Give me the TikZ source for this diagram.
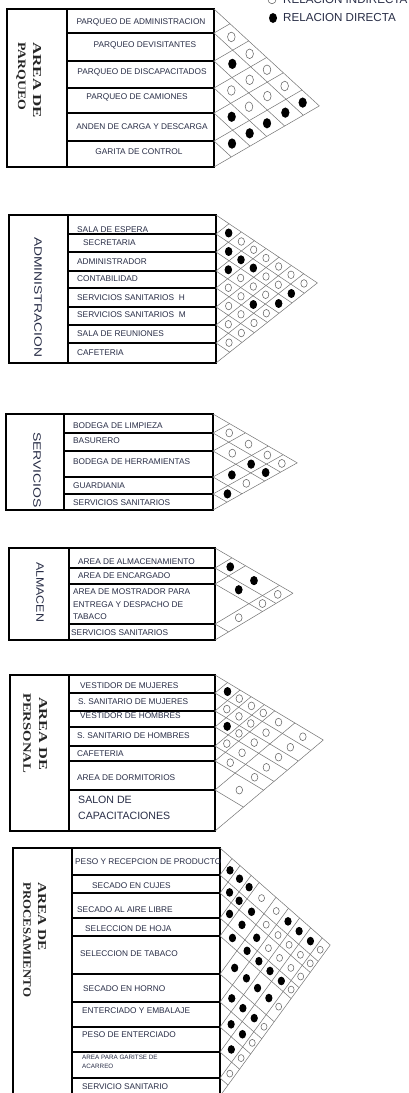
\documentclass[tikz,border=0pt]{standalone}
\usepackage{fontspec}
\setmainfont{Liberation Sans}
\newfontfamily\serifbf{Liberation Serif}
\usepackage{graphicx}
\definecolor{txtc}{RGB}{40,45,70}
\tikzset{
  box/.style={draw=black, line width=1.1pt},
  gridln/.style={draw=black!55, line width=0.5pt},
  opendot/.style={draw=black!60, line width=0.55pt, fill=white},
  fulldot/.style={fill=black},
  rowtxt/.style={inner sep=0pt, anchor=west, text=txtc, font=\fontsize{8.3}{9}\selectfont},
  rowtxtc/.style={inner sep=0pt, anchor=center, text=txtc, font=\fontsize{8.3}{9}\selectfont},
  vlab/.style={inner sep=0pt, rotate=-90, text=txtc},
  vlabb/.style={inner sep=0pt, rotate=-90, anchor=west, text=black!85},
  legtxt/.style={inner sep=0pt, anchor=west, text=txtc, font=\fontsize{11.6}{13}\selectfont},
}
% mid-line of row #2 in boundary list #1 -> \mres
\newcommand\rowmid[2]{%
  \pgfmathtruncatemacro\idxp{#2-1}%
  \pgfmathtruncatemacro\idxq{#2}%
  \pgfmathsetmacro\yp{{#1}[\idxp]}%
  \pgfmathsetmacro\yq{{#1}[\idxq]}%
  \pgfmathsetmacro\mres{(\yp+\yq)/2}%
}
% #1 R, #2 s1, #3 s2, #4 boundaries, #5 number of rows, #6 filled pairs
\newcommand\relgrid[6]{%
  \pgfmathsetmacro\rsum{#2+#3}%
  \pgfmathsetmacro\ytop{{#4}[0]}%
  \pgfmathsetmacro\ybot{{#4}[#5]}%
  \foreach \k in {0,...,#5}{%
    \pgfmathsetmacro\yk{{#4}[\k]}%
    \pgfmathsetmacro\tA{(\ybot-\yk)/\rsum}%
    \pgfmathsetmacro\tB{(\yk-\ytop)/\rsum}%
    \draw[gridln] (#1,\yk) -- ++(\tA,#2*\tA);%
    \draw[gridln] (#1,\yk) -- ++(\tB,-#3*\tB);%
  }%
  \pgfmathtruncatemacro\nm{#5-1}%
  \foreach \a in {1,...,\nm}{%
    \pgfmathtruncatemacro\bstart{\a+1}%
    \foreach \b in {\bstart,...,#5}{%
      \rowmid{#4}{\a}\let\ma\mres
      \rowmid{#4}{\b}\let\mb\mres
      \pgfmathsetmacro\tc{(\mb-\ma)/\rsum}%
      \draw[opendot] (#1+\tc,\ma+#2*\tc) ellipse [x radius=\orx, y radius=\ory];%
    }%
  }%
  \foreach \a/\b in {#6}{%
      \rowmid{#4}{\a}\let\ma\mres
      \rowmid{#4}{\b}\let\mb\mres
      \pgfmathsetmacro\tc{(\mb-\ma)/\rsum}%
      \fill[fulldot] (#1+\tc,\ma+#2*\tc) ellipse [x radius=\frx, y radius=\fry];%
  }%
}
\begin{document}
\begin{tikzpicture}[x=1pt,y=-1pt]
\useasboundingbox (0,0) rectangle (409,1093);
\fill[white] (0,0) rectangle (409,1093);

% ---------- legend
\draw[opendot] (272,-1) ellipse [x radius=4.2, y radius=4.8];
\node[legtxt] (legind) at (283,0) {RELACION INDIRECTA};
\fill[fulldot] (273,18) ellipse [x radius=4, y radius=5];
\node[legtxt] (legdir) at (283,18) {RELACION DIRECTA};

% ---------- section 1 : parqueo
\draw[box] (7,9) rectangle (214,167);
\draw[box] (67,9) -- (67,167);
\foreach \yy in {33,61,88,113,141} \draw[box] (67,\yy) -- (214,\yy);
\def\orx{3.8}\def\ory{4.8}\def\frx{4}\def\fry{5}
\relgrid{214}{0.92}{0.58}{9,33,61,88,113,141,167}{6}{2/3,4/5,5/6,4/6,3/6,2/6,1/6}
\node[vlabb] (l1a) at (37,42) {\resizebox{76pt}{8pt}{\serifbf\bfseries AREA DE}};
\node[vlabb] (l1b) at (21,42) {\resizebox{68pt}{7.5pt}{\serifbf\bfseries PARQUEO}};
\node[rowtxtc] (p1) at (141,22) {PARQUEO DE ADMINISTRACION};
\node[rowtxtc] (p2) at (145,45) {PARQUEO DEVISITANTES};
\node[rowtxtc] (p3) at (142,72) {PARQUEO DE DISCAPACITADOS};
\node[rowtxtc] (p4) at (137,97) {PARQUEO DE CAMIONES};
\node[rowtxtc] (p5) at (142,127) {ANDEN DE CARGA Y DESCARGA};
\node[rowtxtc] (p6) at (139,152) {GARITA DE CONTROL};

% ---------- section 2 : administracion
\draw[box] (9,215) rectangle (216,363);
\draw[box] (68,215) -- (68,363);
\foreach \yy in {234,252,271,288,307,325,343} \draw[box] (68,\yy) -- (216,\yy);
\def\orx{3.2}\def\ory{3.8}\def\frx{3.7}\def\fry{4.5}
\relgrid{216}{0.67}{0.79}{215,234,252,271,288,307,325,343,363}{8}{1/2,2/3,3/4,2/4,2/5,4/7,3/8,2/8}
\node[vlab] (l2) at (38,297) {\resizebox{120pt}{7.5pt}{ADMINISTRACION}};
\node[rowtxt] (a1) at (77,230) {SALA DE ESPERA};
\node[rowtxt] (a2) at (83,243) {SECRETARIA};
\node[rowtxt] (a3) at (77,262) {ADMINISTRADOR};
\node[rowtxt] (a4) at (77,279) {CONTABILIDAD};
\node[rowtxt] (a5) at (77,298) {SERVICIOS SANITARIOS\ \ H};
\node[rowtxt] (a6) at (77,315) {SERVICIOS SANITARIOS\ \ M};
\node[rowtxt] (a7) at (77,334) {SALA DE REUNIONES};
\node[rowtxt] (a8) at (77,353) {CAFETERIA};

% ---------- section 3 : servicios
\draw[box] (6,414) rectangle (213,510);
\draw[box] (64,414) -- (64,510);
\foreach \yy in {433,451,477,494} \draw[box] (64,\yy) -- (213,\yy);
\def\orx{3.4}\def\ory{4}\def\frx{3.8}\def\fry{4.6}
\relgrid{213}{0.58}{0.56}{414,433,451,477,494,510}{5}{3/4,4/5,2/4,2/5}
\node[vlab] (l3) at (37,470) {\resizebox{76pt}{7.5pt}{SERVICIOS}};
\node[rowtxt] (s1) at (73,426) {BODEGA DE LIMPIEZA};
\node[rowtxt] (s2) at (73,441) {BASURERO};
\node[rowtxt] (s3) at (73,462) {BODEGA DE HERRAMIENTAS};
\node[rowtxt] (s4) at (73,486) {GUARDIANIA};
\node[rowtxt] (s5) at (73,503) {SERVICIOS SANITARIOS};

% ---------- section 4 : almacen
\draw[box] (9,548) rectangle (215,640);
\draw[box] (69,548) -- (69,640);
\foreach \yy in {568,584,624} \draw[box] (69,\yy) -- (215,\yy);
\def\orx{3.4}\def\ory{4}\def\frx{3.8}\def\fry{4.6}
\relgrid{215}{0.58}{0.6}{548,568,584,624,640}{4}{1/2,2/3,1/3}
\node[vlab] (l4) at (40,592) {\resizebox{60pt}{7.5pt}{ALMACEN}};
\node[rowtxt] (m1) at (78,562) {AREA DE ALMACENAMIENTO};
\node[rowtxt] (m2) at (78,576) {AREA DE ENCARGADO};
\node[rowtxt] (m3a) at (73,592) {AREA DE MOSTRADOR PARA};
\node[rowtxt] (m3b) at (73,605) {ENTREGA Y DESPACHO DE};
\node[rowtxt] (m3c) at (73,617) {TABACO};
\node[rowtxt] (m4) at (71,633) {SERVICIOS SANITARIOS};

% ---------- section 5 : personal
\draw[box] (10,675) rectangle (215,831);
\draw[box] (69,675) -- (69,831);
\foreach \yy in {693,711,727,746,761,790} \draw[box] (69,\yy) -- (215,\yy);
\def\orx{3.3}\def\ory{3.9}\def\frx{3.7}\def\fry{4.5}
\relgrid{215}{0.6}{0.84}{675,693,711,727,746,761,790,831}{7}{1/2,3/4}
\node[vlabb] (l5a) at (43,697) {\resizebox{73pt}{8pt}{\serifbf\bfseries AREA DE}};
\node[vlabb] (l5b) at (27,693) {\resizebox{80pt}{7.5pt}{\serifbf\bfseries PERSONAL}};
\node[rowtxt] (e1) at (80,686) {VESTIDOR DE MUJERES};
\node[rowtxt] (e2) at (78,702) {S. SANITARIO DE MUJERES};
\node[rowtxt] (e3) at (80,716) {VESTIDOR DE HOMBRES};
\node[rowtxt] (e4) at (77,736) {S. SANITARIO DE HOMBRES};
\node[rowtxt] (e5) at (77,754) {CAFETERIA};
\node[rowtxt] (e6) at (77,778) {AREA DE DORMITORIOS};
\node[rowtxt, font=\fontsize{10.6}{12}\selectfont] (e7a) at (78,800) {SALON DE};
\node[rowtxt, font=\fontsize{10.6}{12}\selectfont] (e7b) at (78,816) {CAPACITACIONES};

% ---------- section 6 : procesamiento
\draw[box] (13,1100) -- (13,848) -- (220,848) -- (220,1100);
\draw[box] (72,848) -- (72,1100);
\foreach \yy in {875,893,918,936,974,1002,1027,1052,1078} \draw[box] (72,\yy) -- (220,\yy);
\def\orx{3}\def\ory{3.5}\def\frx{3.6}\def\fry{4.3}
\relgrid{220}{0.88}{1.37}{848,875,893,918,936,974,1002,1027,1052,1078,1096}{10}{1/2,2/3,3/4,4/5,5/6,6/7,7/8,8/9,1/3,2/4,3/5,4/6,5/7,6/8,7/9,1/4,2/5,3/6,4/7,5/8,6/9,4/8,5/9,4/9,1/7,1/8,1/9}
\node[vlabb] (l6a) at (42,882) {\resizebox{68pt}{8pt}{\serifbf\bfseries AREA DE}};
\node[vlabb] (l6b) at (27,882) {\resizebox{115pt}{7.5pt}{\serifbf\bfseries PROCESAMIENTO}};
\node[rowtxt] (r1) at (75,862) {PESO Y RECEPCION DE PRODUCTO};
\node[rowtxt] (r2) at (92,886) {SECADO EN CUJES};
\node[rowtxt] (r3) at (77,910) {SECADO AL AIRE LIBRE};
\node[rowtxt] (r4) at (85,929) {SELECCION DE HOJA};
\node[rowtxt] (r5) at (80,954) {SELECCION DE TABACO};
\node[rowtxt] (r6) at (83,989) {SECADO EN HORNO};
\node[rowtxt] (r7) at (82,1011) {ENTERCIADO Y EMBALAJE};
\node[rowtxt] (r8) at (82,1035) {PESO DE ENTERCIADO};
\node[rowtxt, font=\fontsize{6.3}{7}\selectfont] (r9a) at (82,1057) {AREA PARA GARITSE DE};
\node[rowtxt, font=\fontsize{6.3}{7}\selectfont] (r9b) at (82,1066) {ACARREO};
\node[rowtxt] (r10) at (82,1087) {SERVICIO SANITARIO};
\end{tikzpicture}
\end{document}
